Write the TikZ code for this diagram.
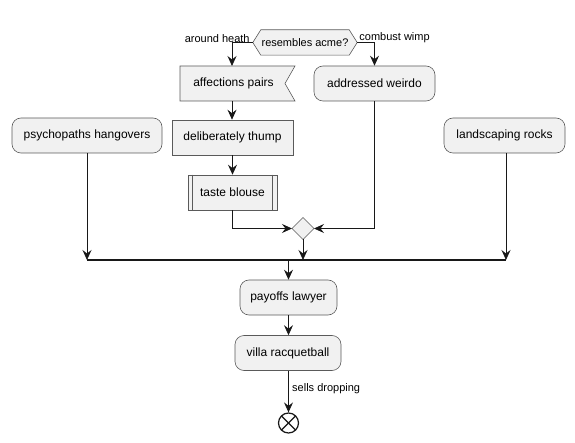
\documentclass[tikz,border=0pt]{standalone}
\usepackage{fontspec}
\setmainfont{Liberation Sans}
\usetikzlibrary{arrows.meta,calc}
\pgfdeclarelayer{background}
\pgfsetlayers{background,main}
\definecolor{boxfill}{HTML}{F1F1F1}
\definecolor{boxline}{HTML}{5A5A5A}
\definecolor{lineclr}{HTML}{181818}
\tikzset{
  base/.style={fill=boxfill,draw=boxline,line width=0.6pt,inner sep=0pt,font=\fontsize{12}{14}\selectfont},
  act/.style={base,rounded corners=9pt,minimum height=35pt},
  plain/.style={base,minimum height=35pt},
  ghost/.style={inner sep=0pt,font=\fontsize{12}{14}\selectfont},
  shapeline/.style={fill=boxfill,draw=boxline,line width=0.6pt},
  conn/.style={draw=lineclr,line width=0.8pt,-{Stealth[length=10pt,width=9pt,inset=3.5pt]}},
  lbl/.style={font=\fontsize{11}{13}\selectfont,inner sep=1pt}
}
\begin{document}
\begin{tikzpicture}[x=1pt,y=-1pt]
\useasboundingbox (0,0) rectangle (575,443);
% decision hexagon
\node[ghost,font=\fontsize{11}{13}\selectfont,minimum width=104pt,minimum height=25pt] (dec) at (305,42.5) {resembles acme?};
\begin{pgfonlayer}{background}
\draw[shapeline] (dec.west) -- ([xshift=8pt]dec.north west) -- ([xshift=-8pt]dec.north east) -- (dec.east) -- ([xshift=-8pt]dec.south east) -- ([xshift=8pt]dec.south west) -- cycle;
\end{pgfonlayer}
% flag shape
\node[ghost,minimum width=115pt,minimum height=35pt] (aff) at (233.5,83.5) {affections pairs};
\begin{pgfonlayer}{background}
\draw[shapeline] (180,66) -- (295,66) -- (285,83.5) -- (295,101) -- (180,101) -- cycle;
\end{pgfonlayer}
\coordinate (afftop) at (232,66);
\coordinate (affbot) at (232,101);
\node[act,minimum width=121pt] (adw) at (374.5,83.5) {addressed weirdo};
\node[plain,minimum width=121pt] (del) at (232.5,137.5) {deliberately thump};
\node[plain,minimum width=89pt] (tb) at (232.5,192.5) {taste blouse};
\draw[draw=boxline,line width=0.6pt] ([xshift=5pt]tb.north west) -- ([xshift=5pt]tb.south west);
\draw[draw=boxline,line width=0.6pt] ([xshift=-5pt]tb.north east) -- ([xshift=-5pt]tb.south east);
\node[act,minimum width=150pt] (psy) at (87,135.5) {psychopaths hangovers};
\node[act,minimum width=121pt] (land) at (504.5,135.5) {landscaping rocks};
% merge diamond
\draw[shapeline] (292,228.5) -- (303,217.5) -- (314,228.5) -- (303,239.5) -- cycle;
\coordinate (mW) at (292,228.5);
\coordinate (mE) at (314,228.5);
\coordinate (mS) at (303,239.5);
% bar
\coordinate (barL) at (87,260);
\coordinate (barR) at (506,260);
\draw[draw=lineclr,line width=1.6pt] (barL) -- (barR);
\node[act,minimum width=97pt] (pay) at (288.5,297.5) {payoffs lawyer};
\node[act,minimum width=106pt] (vil) at (288,353) {villa racquetball};
\node[circle,draw=lineclr,line width=1.2pt,fill=white,minimum size=20pt,inner sep=0pt] (end) at (288.5,423) {};
\draw[lineclr,line width=1.2pt] ($(end.center)+(-7.07,-7.07)$) -- ($(end.center)+(7.07,7.07)$);
\draw[lineclr,line width=1.2pt] ($(end.center)+(-7.07,7.07)$) -- ($(end.center)+(7.07,-7.07)$);
% connectors
\draw[conn] (dec.west) -| (afftop);
\draw[conn] (dec.east) -| (adw.north);
\node[lbl,anchor=south east] at ([xshift=-2pt,yshift=-1pt]dec.west) {around heath};
\node[lbl,anchor=south west] at ([xshift=1pt,yshift=-1pt]dec.east) {combust wimp};
\draw[conn] (affbot) -- (del.north -| affbot);
\draw[conn] (del.south) -- (tb.north);
\draw[conn] (tb.south) |- (mW);
\draw[conn] (adw.south) |- (mE);
\draw[conn] (mS) -- (mS |- barL);
\draw[conn] (psy.south) -- (barL);
\draw[conn] (land.south -| barR) -- (barR);
\draw[conn] (pay.north |- barL) -- (pay.north);
\draw[conn] (pay.south) -- (vil.north -| pay.south);
\draw[conn] (vil.south -| end.north) -- (end.north);
\node[lbl,anchor=west] at (291,389) {sells dropping};
\end{tikzpicture}
\end{document}
